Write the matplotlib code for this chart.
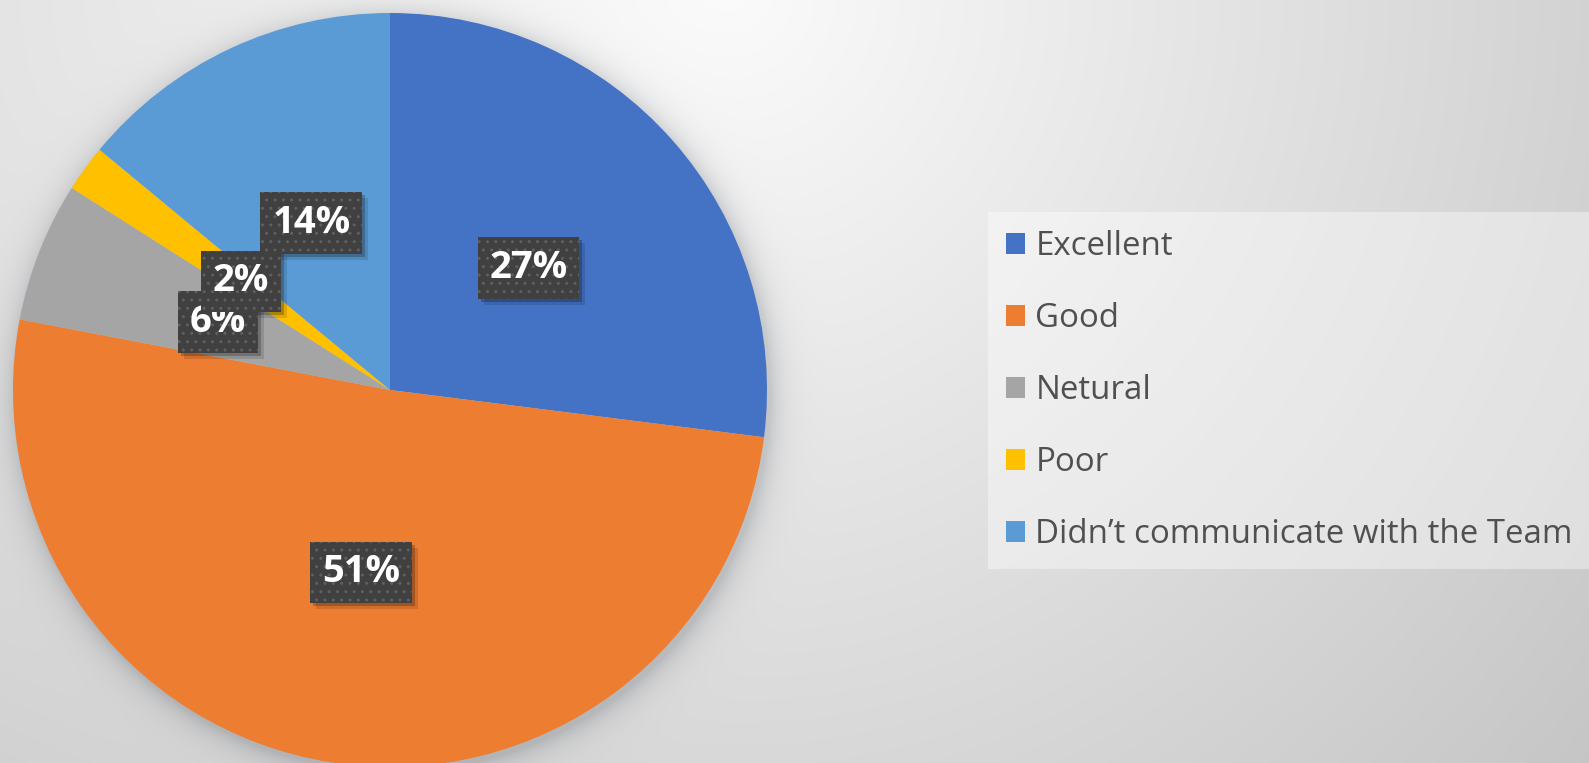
import numpy as np
import matplotlib
matplotlib.use("Agg")
import matplotlib.pyplot as plt
from matplotlib.patches import Rectangle

# Survey answers and their shares (%)
categories = ["Excellent", "Good", "Netural", "Poor",
              "Didn\u2019t communicate with the Team"]
shares = [27, 51, 6, 2, 14]
colors = ["#4472C4", "#ED7D31", "#A5A5A5", "#FFC000", "#5B9BD5"]

W, H = 1589, 763
fig = plt.figure(figsize=(W / 100, H / 100), dpi=100)
ax = fig.add_axes([0, 0, 1, 1])

# pie geometry in pixel-sized data units
cx, cy, R = 390, H - 390, 377

# soft backdrop: bright near the top middle, greyer toward the edges,
# plus a halo shadow around the pie
rows, cols = np.mgrid[0:H, 0:W]
xs = cols + 0.5
ys_top = rows + 0.5
yd = H - ys_top
dx = xs - 730
kx = np.where(dx > 0, 0.047, 0.031)
falloff = np.hypot(dx * kx, (ys_top + 10) * 0.045)
bg = 251 - falloff
dp = np.hypot(xs - (cx + 3), yd - (cy - 4)) - R
halo = 36 * np.exp(-np.clip(dp, 0, None) / 13.0)
img = np.dstack([bg - halo, bg - halo * 0.97, bg - halo * 0.9]) / 255.0
ax.imshow(np.clip(img, 0, 1), extent=(0, W, 0, H), origin="upper",
          zorder=0, interpolation="bilinear", aspect="auto")

wedges, texts, autotexts = ax.pie(
    shares, colors=colors, startangle=90, counterclock=False,
    center=(cx, cy), radius=R,
    autopct=lambda p: f"{p:.0f}%", pctdistance=0.49,
    wedgeprops=dict(linewidth=0),
)

label_font = dict(family="Open Sans", weight="bold", size=27.5)
for t in autotexts:
    t.set(color="white", zorder=4, **label_font)
    t.set_bbox(dict(boxstyle="square,pad=0.31", fc="#404040",
                    ec="#5f5f5f", lw=0, hatch=".."))

ax.set_xlim(0, W)
ax.set_ylim(0, H)
ax.set_aspect("auto")
ax.axis("off")

leg = ax.legend(
    wedges, categories, loc="upper left",
    bbox_to_anchor=(988 / W, 1 - 212 / H), bbox_transform=fig.transFigure,
    borderaxespad=0, prop=dict(family="Open Sans", size=23.8),
    labelcolor="#505050", frameon=True, fancybox=False,
    facecolor="white", framealpha=0.4, edgecolor="none",
    handlelength=0.58, handleheight=0.58, handletextpad=0.3,
    labelspacing=1.18, borderpad=0.55,
)
leg.set_zorder(5)

# drop shadows under the label boxes, sized from the drawn boxes
fig.canvas.draw()
renderer = fig.canvas.get_renderer()
inv = ax.transData.inverted()
for t in autotexts:
    ext = t.get_bbox_patch().get_window_extent(renderer)
    (x0, y0), (x1, y1) = inv.transform([[ext.x0, ext.y0], [ext.x1, ext.y1]])
    for off, a in ((3, 0.22), (6, 0.12)):
        ax.add_patch(Rectangle((x0 + off, y0 - off), x1 - x0, y1 - y0,
                               fc=(0, 0, 0, a), lw=0, zorder=3.5))

fig.savefig("out.png", dpi=100)
